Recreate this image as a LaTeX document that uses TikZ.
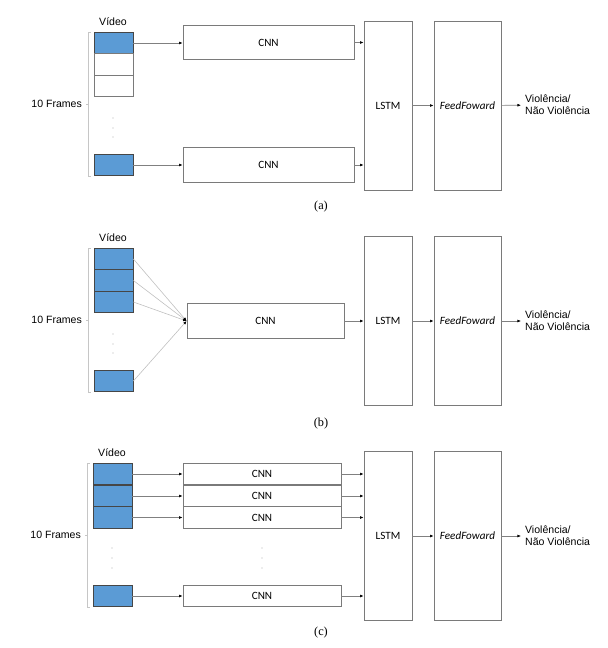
\documentclass[tikz,border=0pt]{standalone}
\usepackage{fontspec}
\setmainfont{Liberation Serif}
\setsansfont{Liberation Sans}
\newfontfamily\calfont{Carlito}
\usetikzlibrary{arrows.meta}
\definecolor{vidblue}{HTML}{5B9BD5}
\definecolor{boxgray}{HTML}{7A7A7A}

\begin{document}
\begin{tikzpicture}[x=0.03cm,y=-0.03cm,
    frm/.style={draw=gray!55!black,line width=0.7pt,fill=vidblue,minimum width=1.17cm,minimum height=0.65cm,inner sep=0pt},
    emp/.style={frm,fill=white,draw=boxgray},
    cnn/.style={draw=boxgray,line width=0.7pt,minimum width=5.13cm,minimum height=1.04cm,inner sep=0pt,font=\calfont\fontsize{9.5}{11}\selectfont},
    big/.style={draw=boxgray,line width=0.7pt,minimum width=1.44cm,minimum height=5.07cm,inner sep=0pt,font=\calfont\fontsize{9.5}{11}\selectfont},
    lbl/.style={font=\sffamily\fontsize{9}{10.5}\selectfont},
    subcap/.style={font=\fontsize{10.5}{12}\selectfont},
    arr/.style={gray,line width=0.5pt,-{Latex[black,length=3pt,width=2.4pt]}},
    brk/.style={gray!45,line width=0.6pt},
    dot/.style={fill=gray!60,circle,inner sep=0pt,minimum size=1pt}]
  \useasboundingbox (0,0) rectangle (607,648);

  % (a) one CNN per frame
  \node[lbl] (va) at (113,22) {Vídeo};
  \node[frm] (a1) at (113.5,43) {};
  \node[emp] (a2) at (113.5,64.5) {};
  \node[emp] (a3) at (113.5,86) {};
  \node[frm] (a4) at (113.5,165) {};
  \foreach \y in {118,128,137} \node[dot] at (113,\y) {};
  \node[lbl,anchor=east] (fra) at (86,104) {10 Frames};
  \draw[brk] (91,32) -- (88,32) -- (88,176) -- (91,176);
  \draw[brk] (fra.east) -- (88,104);
  \node[cnn] (ca1) at (268.5,42.5) {CNN};
  \node[cnn] (ca4) at (268.5,165) {CNN};
  \node[big] (la) at (388,105.5) {LSTM};
  \node[big,minimum width=2.01cm] (fa) at (467.5,105.5) {\textit{FeedFoward}};
  \node[lbl,anchor=west,align=left] (oa) at (521,105) {Violência/\\Não Violência};
  \draw[arr] (a1.east) -- (ca1.west |- a1.east);
  \draw[arr] (a4.east) -- (ca4.west |- a4.east);
  \draw[arr] (ca1.east) -- (la.west |- ca1.east);
  \draw[arr] (ca4.east) -- (la.west |- ca4.east);
  \draw[arr] (la) -- (fa);
  \draw[arr] (fa) -- (oa);
  \node[subcap] (pa) at (321,207) {(a)};

  % (b) all frames into one CNN
  \node[lbl] (vb) at (113,238) {Vídeo};
  \node[frm] (b1) at (113.5,259) {};
  \node[frm] (b2) at (113.5,280.5) {};
  \node[frm] (b3) at (113.5,302) {};
  \node[frm] (b4) at (113.5,381) {};
  \foreach \y in {334,344,353} \node[dot] at (113,\y) {};
  \node[lbl,anchor=east] (frb) at (86,320) {10 Frames};
  \draw[brk] (91,248) -- (88,248) -- (88,392) -- (91,392);
  \draw[brk] (frb.east) -- (88,320);
  \node[cnn,minimum width=4.71cm] (cb) at (265.5,321) {CNN};
  \node[big] (lb) at (388,321) {LSTM};
  \node[big,minimum width=2.01cm] (fb) at (467.5,321) {\textit{FeedFoward}};
  \node[lbl,anchor=west,align=left] (ob) at (521,321) {Violência/\\Não Violência};
  \foreach \f in {b1,b2,b3,b4}
    \draw[arr,gray!50] (\f.east) -- (cb.west);
  \draw[arr] (cb) -- (lb);
  \draw[arr] (lb) -- (fb);
  \draw[arr] (fb) -- (ob);
  \node[subcap] (pb) at (321,424) {(b)};

  % (c) stacked CNNs
  \node[lbl] (vc) at (112,453) {Vídeo};
  \node[frm] (c1) at (112.5,474) {};
  \node[frm] (c2) at (112.5,496) {};
  \node[frm] (c3) at (112.5,517.5) {};
  \node[frm] (c4) at (112.5,596) {};
  \foreach \y in {548,558,568} {\node[dot] at (112,\y) {}; \node[dot] at (262,\y) {};}
  \node[lbl,anchor=east] (frc) at (85,535) {10 Frames};
  \draw[brk] (90,463) -- (87,463) -- (87,607) -- (90,607);
  \draw[brk] (frc.east) -- (87,535);
  \node[cnn,minimum width=4.74cm,minimum height=0.65cm] (cc1) at (262,474) {CNN};
  \node[cnn,minimum width=4.74cm,minimum height=0.65cm] (cc2) at (262,496) {CNN};
  \node[cnn,minimum width=4.74cm,minimum height=0.65cm] (cc3) at (262,517.5) {CNN};
  \node[cnn,minimum width=4.74cm,minimum height=0.65cm] (cc4) at (262,596) {CNN};
  \node[big] (lc) at (388,536) {LSTM};
  \node[big,minimum width=2.01cm] (fc) at (467.5,536) {\textit{FeedFoward}};
  \node[lbl,anchor=west,align=left] (oc) at (521,536) {Violência/\\Não Violência};
  \foreach \i in {1,2,3,4} {
    \draw[arr] (c\i.east) -- (cc\i.west);
    \draw[arr] (cc\i.east) -- (lc.west |- cc\i.east);
  }
  \draw[arr] (lc) -- (fc);
  \draw[arr] (fc) -- (oc);
  \node[subcap] (pc) at (321,633) {(c)};
\end{tikzpicture}
\end{document}
